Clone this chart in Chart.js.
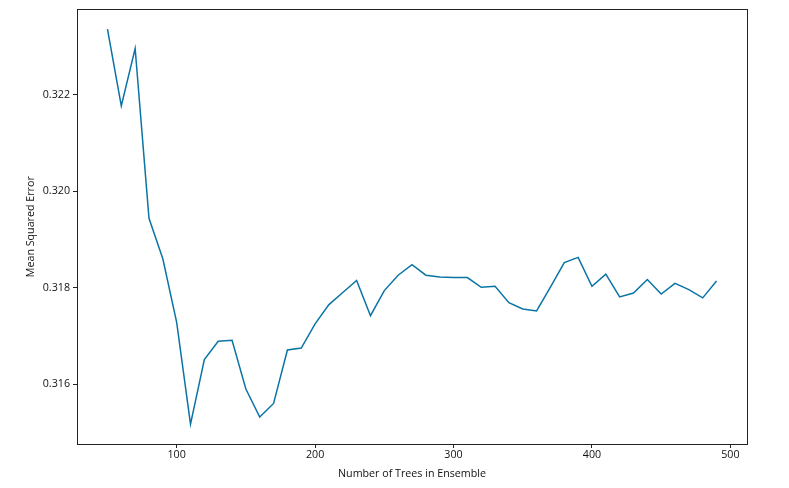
<!DOCTYPE html>
<html>
<head>
<meta charset="utf-8">
<script src="https://cdn.jsdelivr.net/npm/chart.js@4.4.0/dist/chart.umd.min.js"></script>
<style>
  html, body { margin: 0; padding: 0; background: #fff; }
  #wrap { width: 789px; height: 488px; }
</style>
</head>
<body>
<div id="wrap"><canvas id="lineChart"></canvas></div>
<script>
var arboles = [50,60,70,80,90,100,110,120,130,140,150,160,170,180,190,200,210,220,230,240,
               250,260,270,280,290,300,310,320,330,340,350,360,370,380,390,400,410,420,430,440,
               450,460,470,480,490];
var errores = [0.32336,0.32177,0.32296,0.31944,0.31860,0.31728,0.31517,0.31651,0.31689,0.31691,
               0.31590,0.31532,0.31560,0.31671,0.31675,0.31725,0.31765,0.31790,0.31815,0.31742,
               0.31794,0.31826,0.31848,0.31826,0.31822,0.31821,0.31821,0.31801,0.31803,0.31769,
               0.31756,0.31752,0.31801,0.31852,0.31863,0.31803,0.31828,0.31781,0.31789,0.31817,
               0.31787,0.31809,0.31796,0.31779,0.31814];
var xticks = [100,200,300,400,500];
var yticks = [0.316,0.318,0.320,0.322];

var puntos = [];
for (var i = 0; i < arboles.length; i++) {
  puntos.push({x: arboles[i], y: errores[i]});
}

// marco completo alrededor del area del grafico
var marco = {
  id: 'marco',
  beforeDraw: function(chart) {
    var c = chart.ctx;
    c.save();
    c.fillStyle = '#fff';
    c.fillRect(0, 0, chart.width, chart.height);
    c.restore();
  },
  afterDraw: function(chart) {
    var a = chart.chartArea;
    var c = chart.ctx;
    c.save();
    c.strokeStyle = '#222';
    c.lineWidth = 1;
    c.strokeRect(Math.round(a.left) + 0.5, Math.round(a.top) + 0.5,
                 Math.round(a.right - a.left), Math.round(a.bottom - a.top));
    c.restore();
  }
};

var fuente = {family: 'Open Sans', size: 10.7};

new Chart(document.getElementById('lineChart').getContext('2d'), {
  type: 'line',
  data: {
    datasets: [{
      label: 'MSE',
      data: puntos,
      borderColor: '#0a74a6',
      borderWidth: 1.5,
      pointRadius: 0,
      tension: 0,
      fill: false
    }]
  },
  options: {
    responsive: true,
    maintainAspectRatio: false,
    animation: false,
    layout: {padding: {top: 9, right: 42, left: 0, bottom: 0}},
    plugins: {legend: {display: false}, tooltip: {enabled: false}},
    scales: {
      x: {
        type: 'linear',
        min: 28,
        max: 512,
        afterBuildTicks: function(s) { s.ticks = xticks.map(function(v){ return {value: v}; }); },
        afterFit: function(s) { s.height = 44; },
        grid: {drawOnChartArea: false, drawTicks: true, tickLength: 4, color: '#222'},
        border: {display: true, color: '#222'},
        ticks: {color: '#111', font: fuente, padding: 1, maxRotation: 0},
        title: {display: true, text: 'Number of Trees in Ensemble', color: '#111', font: fuente, padding: {top: 0, bottom: 8}}
      },
      y: {
        type: 'linear',
        min: 0.31476,
        max: 0.32377,
        afterBuildTicks: function(s) { s.ticks = yticks.map(function(v){ return {value: v}; }); },
        afterFit: function(s) { s.width = 77; },
        grid: {drawOnChartArea: false, drawTicks: true, tickLength: 4, color: '#222'},
        border: {display: true, color: '#222'},
        ticks: {color: '#111', font: fuente, padding: 3,
                callback: function(v) { return v.toFixed(3); }},
        title: {display: true, text: 'Mean Squared Error', color: '#111', font: fuente, padding: {top: 25, bottom: 0}}
      }
    }
  },
  plugins: [marco]
});
</script>
</body>
</html>
